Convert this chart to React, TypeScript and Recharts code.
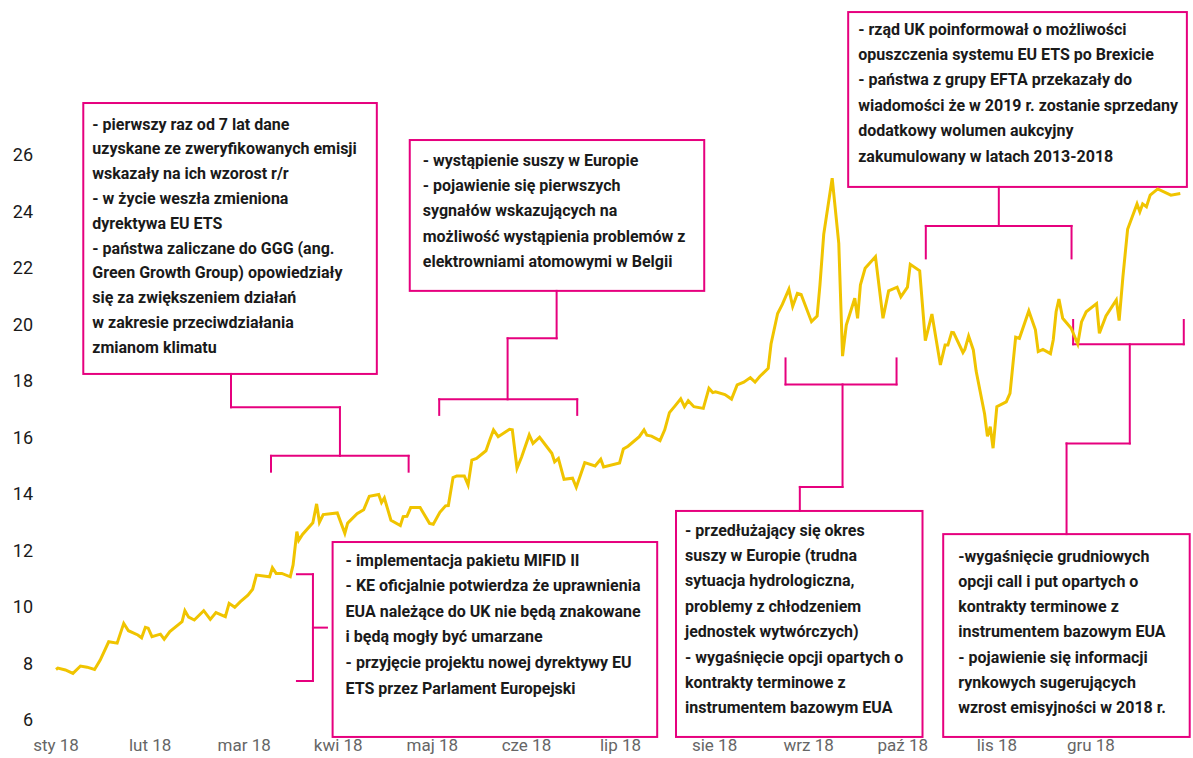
import React from "react"
import { LineChart, Line, XAxis, YAxis, ReferenceArea, ReferenceLine } from "recharts"

// x = months since 1 Jan 2018 (month ticks are evenly spaced), y = EUA price in EUR
const monthLabels = ["sty 18", "lut 18", "mar 18", "kwi 18", "maj 18", "cze 18", "lip 18", "sie 18", "wrz 18", "paź 18", "lis 18", "gru 18"]
const monthTicks = [0, 1, 2, 3, 4, 5, 6, 7, 8, 9, 10, 11]
const priceTicks = [6, 8, 10, 12, 14, 16, 18, 20, 22, 24, 26]

const monthPos = [
  0.0, 0.02, 0.1, 0.18, 0.26, 0.33, 0.41, 0.47, 0.56, 0.65, 0.72, 0.77, 0.87, 0.91, 0.95, 0.98,
  1.02, 1.11, 1.15, 1.21, 1.34, 1.37, 1.41, 1.47, 1.57, 1.64, 1.7, 1.8, 1.84, 1.9, 1.96,
  2.04, 2.09, 2.13, 2.27, 2.3, 2.34, 2.4, 2.49, 2.52, 2.56, 2.58, 2.62, 2.73, 2.77, 2.8, 2.84, 2.99,
  3.07, 3.1, 3.2, 3.27, 3.33, 3.43, 3.46, 3.49, 3.56, 3.66, 3.69, 3.73, 3.77, 3.87, 3.97,
  4.01, 4.08, 4.14, 4.17, 4.22, 4.26, 4.34, 4.38, 4.42, 4.47, 4.57, 4.61, 4.65, 4.7, 4.82, 4.85, 4.9, 4.95,
  5.03, 5.07, 5.14, 5.27, 5.3, 5.34, 5.4, 5.49, 5.53, 5.62, 5.73, 5.79, 5.82, 5.99,
  6.03, 6.08, 6.2, 6.25, 6.28, 6.33, 6.42, 6.47, 6.52, 6.58, 6.64, 6.68, 6.72, 6.78, 6.88, 6.94, 6.98,
  7.01, 7.11, 7.18, 7.24, 7.31, 7.38, 7.43, 7.48, 7.57, 7.6, 7.67, 7.72, 7.79, 7.83, 7.88, 7.92,
  8.03, 8.09, 8.12, 8.16, 8.25, 8.32, 8.36, 8.4, 8.49, 8.52, 8.55, 8.6, 8.71, 8.79, 8.85, 8.94, 8.98,
  9.05, 9.08, 9.18, 9.24, 9.31, 9.4, 9.45, 9.48, 9.52, 9.54, 9.64, 9.66, 9.7, 9.75, 9.78, 9.87, 9.9, 9.93, 9.96,
  10.0, 10.1, 10.14, 10.2, 10.24, 10.34, 10.41, 10.44, 10.49, 10.57, 10.6, 10.63, 10.66, 10.7, 10.79, 10.86, 10.9, 10.95,
  11.06, 11.09, 11.16, 11.27, 11.3, 11.34, 11.39, 11.49, 11.52, 11.55, 11.59, 11.63, 11.71, 11.85, 11.95,
]

const euaPrice = [
  7.79, 7.84, 7.77, 7.65, 7.91, 7.87, 7.79, 8.12, 8.77, 8.72, 9.42, 9.16, 9.01, 8.91, 9.28, 9.25,
  8.95, 9.04, 8.86, 9.13, 9.48, 9.87, 9.64, 9.54, 9.87, 9.56, 9.8, 9.66, 10.13, 9.99, 10.19,
  10.42, 10.63, 11.13, 11.07, 11.39, 11.19, 11.19, 11.07, 11.49, 12.67, 12.36, 12.57, 12.98, 13.65, 13.0, 13.27, 13.33,
  12.61, 12.97, 13.3, 13.44, 13.92, 13.98, 13.7, 13.86, 13.07, 12.88, 13.2, 13.21, 13.52, 13.52, 12.96,
  12.93, 13.35, 13.58, 13.59, 14.58, 14.64, 14.64, 14.32, 15.2, 15.26, 15.53, 15.91, 16.27, 16.03, 16.29, 16.27, 14.91, 15.32,
  16.09, 15.79, 16.01, 15.44, 15.14, 15.26, 14.52, 14.56, 14.24, 15.11, 14.99, 15.23, 14.96, 15.1,
  15.59, 15.69, 16.03, 16.27, 16.08, 16.05, 15.89, 16.27, 16.88, 17.12, 17.37, 17.09, 17.3, 17.09, 17.03, 17.74, 17.59,
  17.62, 17.52, 17.36, 17.86, 17.96, 18.12, 17.96, 18.16, 18.45, 19.31, 20.39, 20.71, 21.25, 20.64, 21.1, 21.06,
  20.1, 20.3, 21.4, 23.19, 25.18, 22.87, 18.88, 19.98, 20.93, 20.22, 21.4, 21.99, 22.4, 20.22, 21.19, 21.32, 20.98,
  21.32, 22.13, 21.9, 19.43, 20.37, 18.57, 19.27, 19.27, 19.72, 19.71, 19.01, 19.12, 19.59, 19.1, 18.35, 16.83, 16.04, 16.38, 15.62,
  17.09, 17.26, 17.56, 19.55, 19.51, 20.48, 19.81, 19.04, 19.12, 18.97, 19.46, 20.45, 20.9, 20.22, 19.87, 19.31, 20.09, 20.45,
  20.74, 19.69, 20.3, 20.87, 20.14, 21.69, 23.37, 24.27, 23.99, 24.27, 24.17, 24.58, 24.8, 24.58, 24.64,
]

const noteGgg = [
  "- pierwszy raz od 7 lat dane",
  "uzyskane ze zweryfikowanych emisji",
  "wskazały na ich wzorost r/r",
  "- w życie weszła zmieniona",
  "dyrektywa EU ETS",
  "- państwa zaliczane do GGG (ang.",
  "Green Growth Group) opowiedziały",
  "się za zwiększeniem działań",
  "w zakresie przeciwdziałania",
  "zmianom klimatu",
]
const noteDrought = [
  "- wystąpienie suszy w Europie",
  "- pojawienie się pierwszych",
  "sygnałów wskazujących na",
  "możliwość wystąpienia problemów z",
  "elektrowniami atomowymi w Belgii",
]
const noteMifid = [
  "- implementacja pakietu MIFID II",
  "- KE oficjalnie potwierdza że uprawnienia",
  "EUA należące do UK nie będą znakowane",
  "i będą mogły być umarzane",
  "- przyjęcie projektu nowej dyrektywy EU",
  "ETS przez Parlament Europejski",
]
const noteSummer = [
  "- przedłużający się okres",
  "suszy w Europie (trudna",
  "sytuacja hydrologiczna,",
  "problemy z chłodzeniem",
  "jednostek wytwórczych)",
  "- wygaśnięcie opcji opartych o",
  "kontrakty terminowe z",
  "instrumentem bazowym EUA",
]
const noteBrexit = [
  "- rząd UK poinformował o możliwości",
  "opuszczenia systemu EU ETS po Brexicie",
  "- państwa z grupy EFTA przekazały do",
  "wiadomości że w 2019 r. zostanie sprzedany",
  "dodatkowy wolumen aukcyjny",
  "zakumulowany w latach 2013-2018",
]
const noteDecember = [
  "-wygaśnięcie grudniowych",
  "opcji call i put opartych o",
  "kontrakty terminowe z",
  "instrumentem bazowym EUA",
  "- pojawienie się informacji",
  "rynkowych sugerujących",
  "wzrost emisyjności w 2018 r.",
]

const data = monthPos.map((t, i) => ({ t, price: euaPrice[i] }))

const PINK = "#E6007E"
const FONT = "Roboto, 'Noto Sans', sans-serif"

// callout boxes, in chart units (months, EUR)
const notes = [
  { x1: 0.29, x2: 3.41, y1: 18.25, y2: 27.84, padX: 9, padTop: 21, lh: 24.8, lines: noteGgg },
  { x1: 3.76, x2: 6.89, y1: 21.19, y2: 26.53, padX: 13, padTop: 20, lh: 25.4, lines: noteDrought },
  { x1: 8.42, x2: 12.02, y1: 24.87, y2: 31.06, padX: 10, padTop: 17, lh: 25.4, lines: noteBrexit },
  { x1: 2.94, x2: 6.39, y1: 5.4, y2: 12.3, padX: 13, padTop: 18, lh: 25.6, lines: noteMifid },
  { x1: 6.59, x2: 9.21, y1: 5.4, y2: 13.4, padX: 9, padTop: 19, lh: 25.4, lines: noteSummer },
  { x1: 9.43, x2: 12.05, y1: 5.4, y2: 12.58, padX: 15, padTop: 22, lh: 25.2, lines: noteDecember },
]

// brackets over the periods + connectors to the boxes
const brackets: [number, number][][] = [
  [[2.285, 14.79], [2.285, 15.35], [3.748, 15.35], [3.748, 14.79]],
  [[3.018, 15.35], [3.018, 17.07], [1.86, 17.07], [1.86, 18.25]],
  [[4.073, 16.8], [4.073, 17.35], [5.54, 17.35], [5.54, 16.8]],
  [[4.8, 17.35], [4.8, 19.51], [5.321, 19.51], [5.321, 21.19]],
  [[2.561, 11.16], [2.731, 11.16], [2.731, 7.38], [2.561, 7.38]],
  [[2.731, 9.27], [2.88, 9.27]],
  [[7.754, 18.8], [7.754, 17.88], [8.934, 17.88], [8.934, 18.8]],
  [[8.36, 17.88], [8.36, 14.25], [7.906, 14.25], [7.906, 13.4]],
  [[9.245, 22.34], [9.245, 23.49], [10.794, 23.49], [10.794, 22.34]],
  [[10.021, 23.49], [10.021, 24.87]],
  [[10.811, 20.16], [10.811, 19.3], [11.987, 19.3], [11.987, 20.16]],
  [[11.413, 19.3], [11.413, 15.79], [10.741, 15.79], [10.741, 12.58]],
]

const segments = brackets.flatMap((pts) =>
  pts.slice(1).map((p, i) => [pts[i], p] as [[number, number], [number, number]])
)

function noteShape(lines: string[], padX: number, padTop: number, lh: number) {
  return (props: any) => {
    const { x, y, width, height } = props
    return (
      <g>
        <rect x={x} y={y} width={width} height={height} fill="none" stroke={PINK} strokeWidth={2} />
        {lines.map((line, i) => (
          <text
            key={i}
            x={x + padX}
            y={y + padTop + i * lh}
            dy="0.35em"
            fill="#1a1a1a"
            fontFamily={FONT}
            fontWeight={700}
            fontSize={16}
          >
            {line}
          </text>
        ))}
      </g>
    )
  }
}

export default function App() {
  return (
    <div style={{ position: "fixed", left: 0, top: 0, width: 1193, height: 758, background: "#fff" }}>
      <LineChart width={1193} height={758} data={data} margin={{ top: 155, right: 8, bottom: 8, left: 0 }}>
        <XAxis
          type="number"
          dataKey="t"
          domain={[0, 12]}
          ticks={monthTicks}
          interval={0}
          tickFormatter={(v: number) => monthLabels[v]}
          axisLine={false}
          tickLine={false}
          tickSize={0}
          tickMargin={19}
          height={30}
          tick={{ fill: "#666", fontSize: 17, fontFamily: FONT }}
        />
        <YAxis
          type="number"
          domain={[6, 26]}
          ticks={priceTicks}
          interval={0}
          width={56}
          axisLine={false}
          tickLine={false}
          tickSize={0}
          tickMargin={23}
          tick={{ fill: "#1a1a1a", fontSize: 18, fontFamily: FONT }}
        />
        {notes.map((n, i) => (
          <ReferenceArea
            key={"n" + i}
            x1={n.x1}
            x2={n.x2}
            y1={n.y1}
            y2={n.y2}
            ifOverflow="visible"
            shape={noteShape(n.lines, n.padX, n.padTop, n.lh)}
          />
        ))}
        {segments.map((s, i) => (
          <ReferenceLine
            key={"s" + i}
            segment={[{ x: s[0][0], y: s[0][1] }, { x: s[1][0], y: s[1][1] }]}
            stroke={PINK}
            strokeWidth={2}
            strokeLinecap="square"
            ifOverflow="visible"
          />
        ))}
        <Line
          type="linear"
          dataKey="price"
          stroke="#F0C400"
          strokeWidth={3}
          dot={false}
          isAnimationActive={false}
        />
      </LineChart>
    </div>
  )
}
